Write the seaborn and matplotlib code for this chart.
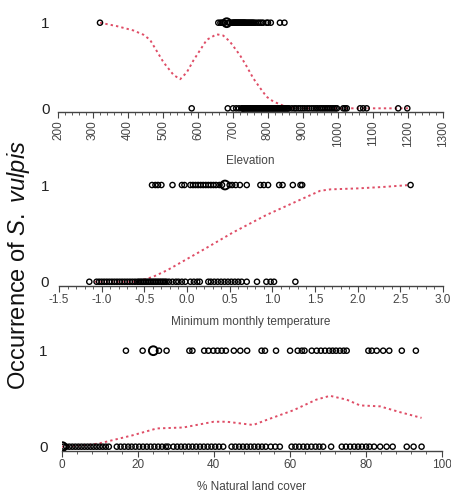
import matplotlib
matplotlib.use("Agg")
import matplotlib.pyplot as plt
from matplotlib.ticker import MultipleLocator, AutoMinorLocator
import seaborn as sns
import pandas as pd

# ---------------- data ----------------
elev_pres = [320, 658, 664, 668, 672, 676, 688, 692, 697, 700, 702, 704, 706, 708, 710,
             712, 714, 716, 718, 720, 722, 724, 726, 728, 730, 732, 734, 736, 739, 742,
             745, 748, 751, 754, 757, 760, 765, 771, 776, 781, 786, 796, 800, 808, 834,
             847]
elev_pres_big = [682]
elev_abs = [582, 685, 700, 709, 717, 725, 727, 729, 731, 734, 737, 740, 743, 746, 749,
            752, 755, 758, 761, 764, 767, 770, 773, 776, 779, 782, 785, 788, 791, 794,
            797, 800, 803, 806, 809, 812, 815, 818, 821, 824, 827, 830, 833, 836, 839,
            842, 845, 848, 851, 854, 857, 860, 868, 875, 880, 887, 893, 899, 905, 912,
            918, 925, 931, 937, 942, 948, 953, 958, 963, 968, 973, 978, 983, 988, 993,
            997, 1015, 1020, 1025, 1063, 1072, 1082, 1172, 1198]
elev_curve_x = [320, 368, 415, 444, 463, 501, 530, 549, 568, 587, 606, 625, 653, 672,
                691, 720, 739, 758, 777, 796, 815, 844, 863, 900, 1000, 1100, 1200]
elev_curve_y = [1.00, 0.96, 0.91, 0.86, 0.80, 0.54, 0.39, 0.34, 0.42, 0.56, 0.68, 0.80,
                0.865, 0.85, 0.78, 0.62, 0.49, 0.35, 0.24, 0.135, 0.08, 0.03, 0.01, 0.0,
                0.0, 0.0, 0.0]

temp_pres = [-0.41, -0.37, -0.34, -0.30, -0.17, -0.06, -0.03, 0.04, 0.07, 0.10, 0.13,
             0.16, 0.19, 0.22, 0.25, 0.28, 0.31, 0.34, 0.38, 0.41, 0.50, 0.53, 0.57,
             0.62, 0.70, 0.86, 0.90, 0.95, 1.08, 1.12, 1.24, 1.33, 1.35, 2.62]
temp_pres_big = [0.445]
temp_abs = [-1.145, -1.06, -1.03, -1.00, -0.97, -0.94, -0.91, -0.88, -0.85, -0.82, -0.79,
            -0.76, -0.73, -0.70, -0.67, -0.64, -0.61, -0.58, -0.56, -0.54, -0.52, -0.50,
            -0.48, -0.46, -0.44, -0.42, -0.40, -0.38, -0.36, -0.34, -0.32, -0.30, -0.28,
            -0.26, -0.24, -0.21, -0.17, -0.13, -0.10, -0.06, -0.02, 0.04, 0.08, 0.12,
            0.15, 0.25, 0.28, 0.32, 0.36, 0.40, 0.44, 0.48, 0.52, 0.56, 0.60, 0.64, 0.70,
            0.82, 0.93, 0.98, 1.02, 1.27]
temp_curve_x = [-1.08, -0.80, -0.59, -0.40, -0.23, 0.15, 0.54, 0.93, 1.32, 1.56, 1.68,
                2.00, 2.30, 2.61]
temp_curve_y = [0.0, 0.0, 0.0, 0.05, 0.12, 0.31, 0.51, 0.69, 0.845, 0.94, 0.955, 0.965,
                0.98, 1.0]

land_pres = [16.9, 21.3, 25.6, 27.6, 33.6, 34.4, 37.5, 38.6, 39.9, 41.0, 42.1, 43.2, 45.3,
             47.0, 48.8, 52.6, 53.5, 56.4, 60.1, 62.1, 63.2, 63.9, 65.8, 67.1, 68.2, 69.3,
             70.4, 71.3, 72.2, 73.2, 74.2, 75.0, 80.7, 81.6, 82.9, 84.6, 86.2, 89.5, 93.2]
land_pres_big = [24.1]
land_abs = [0.5, 1.2, 2.0, 2.8, 3.6, 4.4, 5.2, 6.0, 6.8, 7.6, 8.4, 9.2, 10.0, 10.8, 11.6,
            12.4, 14.5, 15.5, 16.5, 17.5, 18.4, 19.4, 20.4, 21.4, 22.4, 23.4, 24.4, 25.4,
            26.4, 27.4, 28.0, 29.4, 30.4, 31.4, 32.4, 33.4, 34.4, 35.4, 36.4, 37.4, 38.4,
            39.4, 40.4, 41.4, 42.5, 44.7, 45.7, 46.7, 47.7, 48.7, 49.7, 50.7, 51.7, 52.7,
            53.7, 55.0, 56.2, 57.4, 60.5, 61.5, 62.5, 63.6, 64.6, 65.7, 66.8, 67.8, 68.8,
            70.9, 73.7, 74.8, 75.9, 77.0, 78.0, 79.0, 80.1, 81.0, 82.2, 83.8, 85.5, 87.1,
            90.8, 92.6, 94.7]
land_abs_big = [0.2]
land_curve_x = [0, 7.4, 10, 18.8, 25, 32, 40, 43.4, 50.4, 54, 61, 67, 70.6, 75, 78.5,
                83.8, 89, 94.7]
land_curve_y = [0.0, 0.02, 0.035, 0.12, 0.19, 0.20, 0.26, 0.26, 0.226, 0.28, 0.38, 0.49,
                0.53, 0.49, 0.43, 0.42, 0.36, 0.30]

# ---------------- style ----------------
sns.set_style("white")
plt.rcParams['font.family'] = ['Liberation Sans', 'DejaVu Sans']
plt.rcParams['mathtext.fontset'] = 'custom'
plt.rcParams['mathtext.rm'] = 'Liberation Sans'
plt.rcParams['mathtext.it'] = 'Liberation Sans:italic'

W, H = 452, 492
fig = plt.figure(figsize=(W / 100, H / 100), dpi=100)


def px_axes(left, right, top, bottom):
    return fig.add_axes([left / W, 1 - bottom / H, (right - left) / W, (bottom - top) / H])


LINE_COLOR = '#df4d66'


def panel(ax, pres, pres_big, absn, absn_big, cx, cy, xlim, major, xlabel, rot, ylo, ypad, labelpad):
    pts = pd.DataFrame({'x': list(pres) + list(absn), 'y': [1] * len(pres) + [0] * len(absn)})
    sns.scatterplot(data=pts, x='x', y='y', ax=ax, marker='o', s=14, facecolor='none',
                    edgecolor='black', linewidth=1.0, zorder=3)
    big = pd.DataFrame({'x': list(pres_big) + list(absn_big),
                        'y': [1] * len(pres_big) + [0] * len(absn_big)})
    if len(big):
        sns.scatterplot(data=big, x='x', y='y', ax=ax, marker='o', s=40, facecolor='none',
                        edgecolor='black', linewidth=1.4, zorder=3)
    curve = pd.DataFrame({'x': cx, 'y': cy})
    sns.lineplot(data=curve, x='x', y='y', ax=ax, color=LINE_COLOR, linewidth=1.4,
                 linestyle=(0, (1.2, 1.6)), sort=False, zorder=2)
    ax.set_xlim(*xlim)
    ax.set_ylim(ylo, 1.15)
    ax.xaxis.set_major_locator(MultipleLocator(major))
    ax.xaxis.set_minor_locator(AutoMinorLocator(5))
    for s in ['top', 'right', 'left']:
        ax.spines[s].set_visible(False)
    ax.spines['bottom'].set_color('#444444')
    ax.spines['bottom'].set_linewidth(1.0)
    ax.tick_params(axis='x', which='major', direction='out', length=4, width=0.8,
                   color='#444444', labelsize=8.5, labelcolor='#444444', bottom=True,
                   labelrotation=rot, pad=2)
    ax.tick_params(axis='x', which='minor', direction='out', length=2, width=0.6,
                   color='#444444', bottom=True)
    ax.set_yticks([0, 1])
    ax.set_yticklabels(['0', '1'])
    ax.tick_params(axis='y', length=0, labelsize=11, labelcolor='#222222', pad=ypad)
    ax.set_xlabel(xlabel, fontsize=8.5, color='#444444', labelpad=labelpad)
    ax.set_ylabel('')
    ax.set_facecolor('none')


ax1 = px_axes(58, 443, 9.86, 112)
panel(ax1, elev_pres, elev_pres_big, elev_abs, [], elev_curve_x, elev_curve_y,
      (200, 1300), 100, 'Elevation', 90, -0.043, 6, 6)
ax1.set_xticklabels([str(int(v)) for v in ax1.get_xticks()], rotation=90)

ax2 = px_axes(59, 443, 170.5, 286)
panel(ax2, temp_pres, temp_pres_big, temp_abs, [], temp_curve_x, temp_curve_y,
      (-1.5, 3.0), 0.5, 'Minimum monthly temperature', 0, -0.044, 7, 7)
ax2.set_xticklabels([f'{v:.1f}' for v in ax2.get_xticks()])

ax3 = px_axes(61.7, 441.7, 336.3, 451)
panel(ax3, land_pres, land_pres_big, land_abs, land_abs_big, land_curve_x, land_curve_y,
      (0, 100), 20, '% Natural land cover', 0, -0.045, 10, 7)

fig.text(19 / W, 1 - 265 / H, r'Occurrence of $\it{S.\ vulpis}$', rotation=90,
         fontsize=17, ha='center', va='center', color='#111111')

fig.savefig('out.png', dpi=100)
